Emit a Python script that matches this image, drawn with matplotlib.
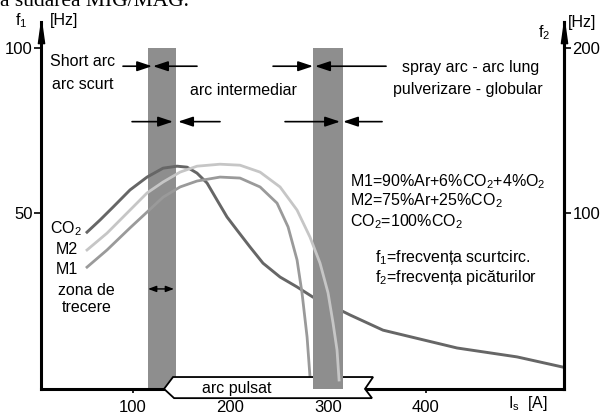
import numpy as np
import matplotlib
matplotlib.use("Agg")
from matplotlib import pyplot as plt
from matplotlib.patches import Polygon

plt.rcParams['font.family'] = ['Liberation Sans', 'DejaVu Sans']
plt.rcParams['mathtext.fontset'] = 'custom'
plt.rcParams['mathtext.rm'] = 'Liberation Sans'
plt.rcParams['mathtext.it'] = 'Liberation Sans:italic'

# curves: current [A] -> f1 [Hz]
co2_x = [52.8, 66.2, 79.5, 96.9, 114.4, 130.8, 145.1, 155.4, 165.6, 175.9, 186.2,
         196.4, 206.7, 220.0, 233.3, 250.8, 268.2, 284.6, 302.1, 322.6, 356.4,
         432.3, 493.8, 541.0]
co2_y = [44.2, 47.9, 51.8, 57.0, 60.9, 63.6, 64.2, 63.9, 62.1, 59.1, 53.9,
         48.8, 44.8, 39.7, 34.8, 30.6, 27.6, 24.5, 22.1, 19.1, 14.5,
         9.1, 6.4, 3.3]

m2_x = [52.8, 73.3, 96.9, 114.4, 130.8, 148.2, 165.6, 189.2, 209.7, 230.3, 250.8,
        268.2, 281.5, 291.8, 300.0, 305.1, 309.2, 311.3]
m2_y = [38.8, 43.9, 50.9, 56.1, 59.4, 62.4, 64.2, 64.8, 64.5, 62.4, 57.9,
        50.9, 42.7, 34.8, 25.8, 16.7, 8.5, -0.6]

m1_x = [52.8, 73.3, 96.9, 114.4, 130.8, 148.2, 165.6, 189.2, 209.7, 230.3, 247.7,
        259.0, 268.2, 273.3, 278.5, 281.5]
m1_y = [33.6, 38.8, 45.5, 50.3, 54.8, 57.9, 59.7, 60.9, 60.6, 57.9, 53.0,
        45.8, 35.8, 25.8, 12.4, 0.3]

# transition zones [A]
zone_lo = [115, 285]
zone_hi = [144, 315]
zone_top = 100

x_ticks = [100, 200, 300, 400]
f1_ticks = [50, 100]
f2_ticks = [100, 200]

xmin, xmax = 5.6, 542
ymin, ymax = -3.33, 107.9

fig = plt.figure(figsize=(6, 4.17), dpi=100)
ax = fig.add_axes([41/600, 28/417, 523/600, 367/417])
ax.set_xlim(xmin, xmax)
ax.set_ylim(ymin, ymax)

band_col = '#8e8e8e'
ax.bar(zone_lo[0], zone_top - ymin, width=zone_hi[0] - zone_lo[0], bottom=ymin,
       align='edge', color=band_col, zorder=1)
ax.bar(zone_lo[1], zone_top - ymin, width=zone_hi[1] - zone_lo[1], bottom=ymin,
       align='edge', color=band_col, zorder=4, clip_on=False)

ax.plot(co2_x, co2_y, color='#666666', lw=2.1, zorder=2, solid_joinstyle='round')
ax.plot(m2_x, m2_y, color='#c6c6c6', lw=2.0, zorder=5, solid_joinstyle='round')
ax.plot(m1_x, m1_y, color='#9a9a9a', lw=2.0, zorder=2, solid_joinstyle='round')

# spines
ax.spines['top'].set_visible(False)
for s in ['left', 'right', 'bottom']:
    ax.spines[s].set_linewidth(2.2)
ax.set_xticks(x_ticks)
ax.set_yticks(f1_ticks)
ax.tick_params(axis='x', direction='out', length=3, width=1.2, pad=5, labelsize=12)
ax.tick_params(axis='y', direction='out', length=5, width=1.2, pad=1, labelsize=12)

ax2 = ax.twinx()
ax2.set_ylim(2*ymin, 2*ymax)
ax2.set_yticks(f2_ticks)
ax2.spines['top'].set_visible(False)
ax2.spines['left'].set_visible(False)
ax2.spines['bottom'].set_visible(False)
ax2.spines['right'].set_linewidth(2.2)
ax2.tick_params(axis='y', direction='out', length=5, width=1.2, pad=1, labelsize=12)

# arrowheads on vertical axes
head = [(0, 1), (-0.28, -1), (0.28, -1), (0, 1)]
ax.plot([xmin, xmax], [104.8, 104.8], marker=head, markersize=16, color='k',
        ls='none', clip_on=False, zorder=6)

# "arc pulsat" banner over the bottom axis
banner = Polygon([(141.0, 0.3), (131.8, -3.3), (142.1, -6.1), (345.1, -6.1),
                  (337.9, -3.3), (346.2, 0.3)], closed=True, facecolor='white',
                 edgecolor='black', lw=1.3, zorder=3, clip_on=False)
ax.add_patch(banner)
ax.text(206.7, -3.2, 'arc pulsat', ha='center', va='center', fontsize=11.5, zorder=6)

# arrows marking the zones
def arrow(x0, x1, y, ms=10, style='-|>,head_length=0.9,head_width=0.3', lw=1.2):
    ax.annotate('', xy=(x1, y), xytext=(x0, y),
                arrowprops=dict(arrowstyle=style, color='k', lw=lw,
                                mutation_scale=ms, shrinkA=0, shrinkB=0), zorder=7)

arrow(89.7, 119.5, 94.5)
arrow(165.6, 120.5, 94.5)
arrow(243.6, 284.6, 94.5)
arrow(359.5, 286.7, 94.5)
arrow(99.0, 141.0, 77.7)
arrow(189.2, 146.2, 77.7)
arrow(255.9, 312.3, 77.7)
arrow(355.4, 315.4, 77.7)
arrow(115.4, 142.0, 27.0, ms=6, style='<|-|>,head_length=0.8,head_width=0.3', lw=1.0)

fs = 11.5
ax.text(14.9, 95.8, 'Short arc', va='center', fontsize=fs)
ax.text(16.9, 89.1, 'arc scurt', va='center', fontsize=fs)
ax.text(158.5, 87.0, 'arc intermediar', va='center', fontsize=fs)
ax.text(446.0, 94.2, 'spray arc - arc lung', ha='center', va='center', fontsize=fs)
ax.text(443.6, 87.3, 'pulverizare - globular', ha='center', va='center', fontsize=fs)

ax.text(322.6, 59.4, r'M1=90%Ar+6%CO$_\mathrm{2}$+4%O$_\mathrm{2}$', va='center', fontsize=fs)
ax.text(322.6, 53.9, r'M2=75%Ar+25%CO$_\mathrm{2}$', va='center', fontsize=fs)
ax.text(322.6, 47.3, r'CO$_\mathrm{2}$=100%CO$_\mathrm{2}$', va='center', fontsize=fs)
ax.text(348.2, 36.4, r'f$_\mathrm{1}$=frecvența scurtcirc.', va='center', fontsize=fs)
ax.text(348.2, 30.6, r'f$_\mathrm{2}$=frecvența picăturilor', va='center', fontsize=fs)

ax.text(31.3, 45.2, r'CO$_\mathrm{2}$', ha='center', va='center', fontsize=fs)
ax.text(32.3, 39.1, 'M2', ha='center', va='center', fontsize=fs)
ax.text(32.3, 33.0, 'M1', ha='center', va='center', fontsize=fs)
ax.text(52.3, 26.4, 'zona de', ha='center', va='center', fontsize=fs)
ax.text(52.3, 21.5, 'trecere', ha='center', va='center', fontsize=fs)

ax.text(-14.9, 108.2, r'f$_\mathrm{1}$', ha='center', va='center', fontsize=fs)
ax.text(14.9, 108.5, '[Hz]', va='center', fontsize=fs)
ax.text(521.5, 104.8, r'f$_\mathrm{2}$', ha='center', va='center', fontsize=fs)
ax.text(546.0, 107.9, '[Hz]', va='center', fontsize=fs)
ax.text(484.6, -7.6, r'I$_\mathrm{s}$  [A]', va='center', fontsize=fs)

# heading of the page, cut off at the top edge as in the source scan
fig.text(0.0, 1 - 6/417, 'a sudarea MIG/MAG.', va='baseline', fontsize=15.5,
         family='Liberation Serif')

fig.savefig('out.png', dpi=100)
